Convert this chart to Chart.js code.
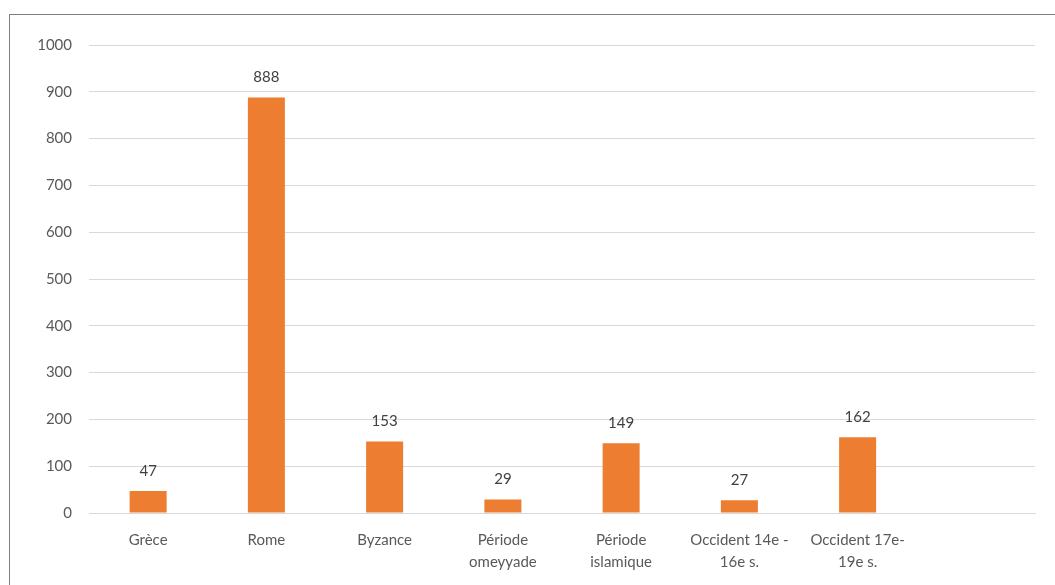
<!DOCTYPE html>
<html lang="fr">
<head>
  <meta charset="UTF-8">
  <title>Répartition par période</title>
  <script src="https://cdn.jsdelivr.net/npm/chart.js"></script>
  <style>
    body { margin: 0; background: #fff; overflow: hidden; }
    #frame { position: absolute; left: 9px; top: 14px; width: 1100px; height: 620px; border: 1px solid #808080; }
    #wrap { position: absolute; left: 0; top: 0; width: 1055px; height: 585px; }
  </style>
</head>
<body>

<div id="frame"></div>
<div id="wrap"><canvas id="chart" width="1055" height="585"></canvas></div>

<script>
const categories = [
  'Grèce',
  'Rome',
  'Byzance',
  ['Période', 'omeyyade'],
  ['Période', 'islamique'],
  ['Occident 14e -', '16e s.'],
  ['Occident 17e-', '19e s.'],
  ''
];
const values = [47, 888, 153, 29, 149, 27, 162, null];
const yTicks = [0, 100, 200, 300, 400, 500, 600, 700, 800, 900, 1000];

const fontFamily = 'Lato, "Liberation Sans", sans-serif';

// value labels above each bar
const barLabels = {
  id: 'barLabels',
  afterDatasetsDraw(chart) {
    const ctx = chart.ctx;
    const meta = chart.getDatasetMeta(0);
    ctx.save();
    ctx.font = '15px ' + fontFamily;
    ctx.fillStyle = '#404040';
    ctx.textAlign = 'center';
    ctx.textBaseline = 'middle';
    meta.data.forEach((bar, i) => {
      if (values[i] == null) return;
      ctx.fillText(values[i], bar.x, bar.y - 20);
    });
    ctx.restore();
  }
};

new Chart(document.getElementById('chart').getContext('2d'), {
  type: 'bar',
  data: {
    labels: categories,
    datasets: [{
      data: values,
      backgroundColor: '#ED7D31',
      barPercentage: 1,
      categoryPercentage: 0.313
    }]
  },
  options: {
    responsive: false,
    animation: false,
    layout: { padding: { left: 0, right: 20, top: 45, bottom: 0 } },
    plugins: { legend: { display: false }, tooltip: { enabled: false } },
    scales: {
      x: {
        grid: { display: false },
        border: { display: true, color: '#d9d9d9' },
        ticks: {
          color: '#595959',
          font: { family: fontFamily, size: 15, lineHeight: '22px' },
          padding: 8,
          maxRotation: 0,
          autoSkip: false
        },
        afterFit(scale) { scale.height = 72; }
      },
      y: {
        min: 0,
        max: 1000,
        afterBuildTicks(scale) { scale.ticks = yTicks.map(v => ({ value: v })); },
        grid: { color: '#d9d9d9', drawTicks: false },
        border: { display: false },
        ticks: {
          color: '#595959',
          font: { family: fontFamily, size: 15 },
          padding: 17,
          callback: v => String(v)
        },
        afterFit(scale) { scale.width = 89; }
      }
    }
  },
  plugins: [barLabels]
});
</script>

</body>
</html>
